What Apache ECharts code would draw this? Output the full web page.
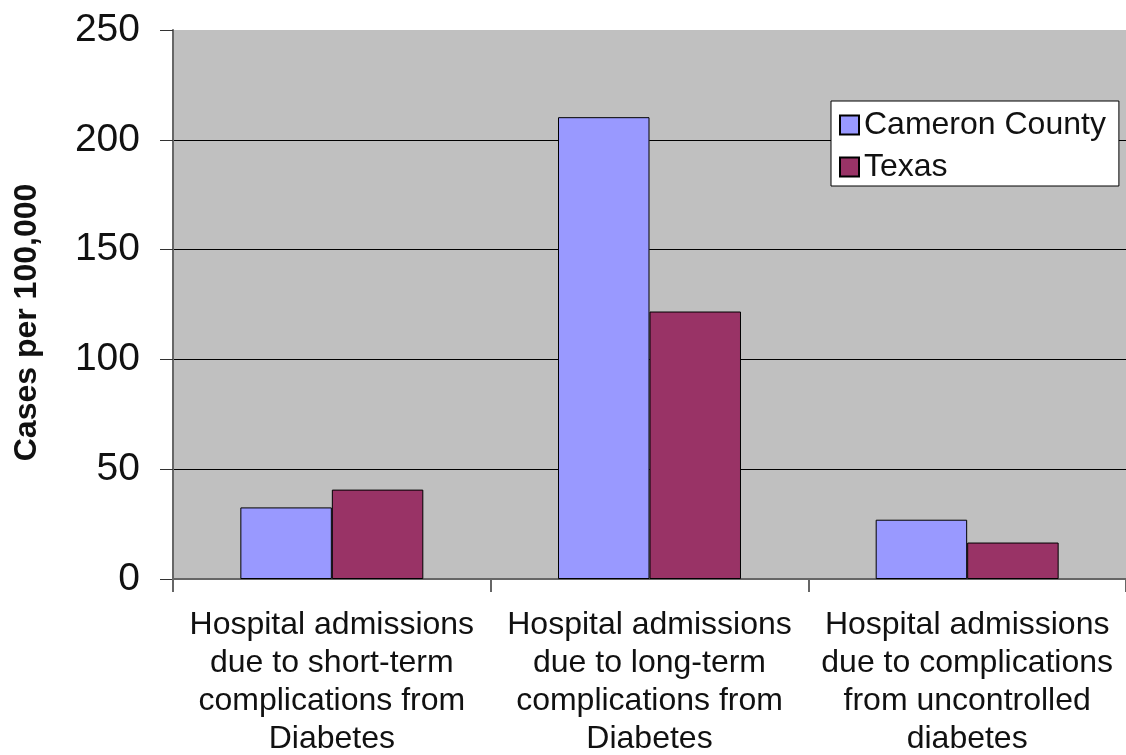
<!DOCTYPE html>
<html>
<head>
<meta charset="utf-8">
<script src="https://cdn.jsdelivr.net/npm/echarts@6/dist/echarts.min.js"></script>
<style>
html,body{margin:0;padding:0;background:#fff;}
#chart{width:1126px;height:755px;}
</style>
</head>
<body>
<div id="chart"></div>
<script>
const categories = [
  "Hospital admissions\ndue to short-term\ncomplications from\nDiabetes",
  "Hospital admissions\ndue to long-term\ncomplications from\nDiabetes",
  "Hospital admissions\ndue to complications\nfrom uncontrolled\ndiabetes"
];
const seriesNames = ["Cameron County", "Texas"];
const cameronCounty = [32.6, 210.3, 27.0];
const texas = [40.7, 121.8, 16.6];
const yTicks = { min: 0, max: 250, interval: 50 };
const yTitle = "Cases per 100,000";

const FONT = "'Liberation Sans', Arial, sans-serif";
const chart = echarts.init(document.getElementById('chart'), null, { renderer: 'canvas' });
chart.setOption({
  backgroundColor: '#ffffff',
  animation: false,
  textStyle: { fontFamily: FONT },
  grid: {
    left: 173, top: 30, right: 0, bottom: 176,
    outerBoundsMode: 'none', containLabel: false,
    show: true, backgroundColor: '#c0c0c0', borderWidth: 0
  },
  legend: {
    orient: 'vertical',
    left: 831, top: 101,
    padding: [6, 13, 1, 8],
    itemGap: 6,
    itemWidth: 19, itemHeight: 19,
    backgroundColor: '#ffffff',
    borderColor: '#000000', borderWidth: 1,
    borderRadius: 0,
    icon: 'rect',
    textStyle: { fontFamily: FONT, fontSize: 32, lineHeight: 36, color: '#111' },
    data: seriesNames
  },
  xAxis: {
    type: 'category',
    data: categories,
    axisLine: { lineStyle: { color: '#666', width: 2 } },
    axisTick: { show: true, length: 13, lineStyle: { color: '#666', width: 2 } },
    axisLabel: {
      fontFamily: FONT, fontSize: 32, lineHeight: 38, color: '#111',
      margin: 27, interval: 0
    }
  },
  yAxis: {
    type: 'value',
    min: yTicks.min, max: yTicks.max, interval: yTicks.interval,
    name: yTitle,
    nameLocation: 'middle',
    nameGap: 130,
    nameRotate: 90,
    nameTextStyle: { fontFamily: FONT, fontSize: 32, fontWeight: 'bold', color: '#111', padding: [0, 36, 0, 0] },
    axisLine: { show: true, lineStyle: { color: '#666', width: 2 } },
    axisTick: { show: true, length: 13, lineStyle: { color: '#333', width: 1 } },
    axisLabel: { fontFamily: FONT, fontSize: 39, color: '#111', margin: 33 },
    splitLine: { show: true, showMaxLine: false, lineStyle: { color: '#000', width: 1 } }
  },
  series: [
    {
      name: seriesNames[0], type: 'bar', data: cameronCounty,
      barGap: '0%', barCategoryGap: '42.4%',
      itemStyle: { color: '#9999ff', borderColor: '#000', borderWidth: 1 }
    },
    {
      name: seriesNames[1], type: 'bar', data: texas,
      itemStyle: { color: '#993366', borderColor: '#000', borderWidth: 1 }
    }
  ]
});
</script>
</body>
</html>
